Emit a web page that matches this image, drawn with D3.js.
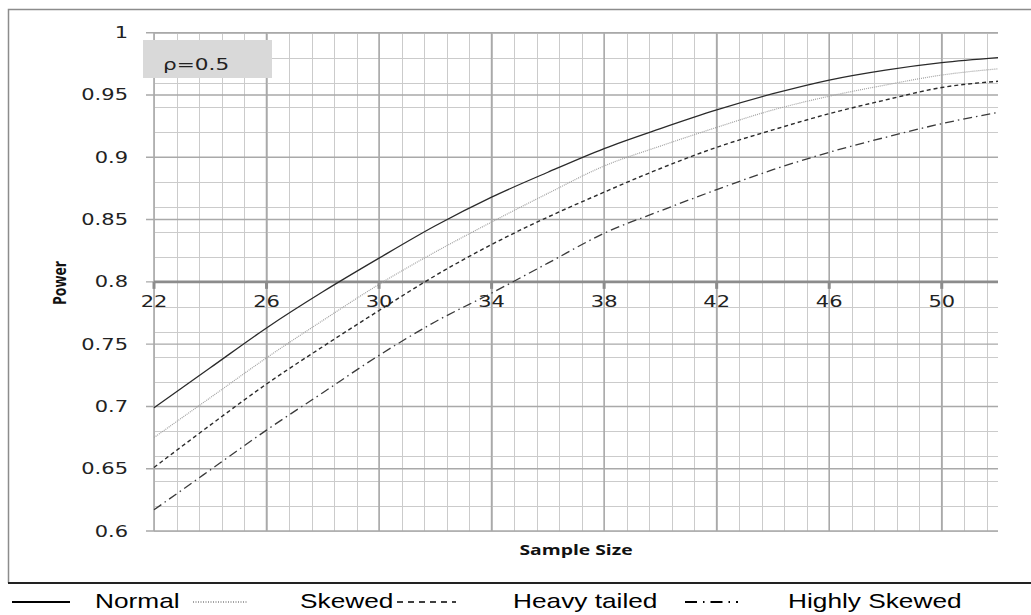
<!DOCTYPE html>
<html><head><meta charset="utf-8">
<script src="https://cdn.jsdelivr.net/npm/d3@7"></script>
<style>html,body{margin:0;padding:0;background:#fff;}svg{display:block;}</style>
</head><body>
<svg id="chart" width="1031" height="615"></svg>
<script>
// ---- data ----
const sampleSizes = [22,24,26,28,30,32,34,36,38,40,42,44,46,48,50,52];
const normalPower   = [0.699,0.731,0.763,0.792,0.819,0.845,0.868,0.888,0.907,0.923,0.938,0.951,0.962,0.970,0.976,0.980];
const skewedPower   = [0.675,0.707,0.739,0.769,0.798,0.824,0.848,0.871,0.893,0.909,0.924,0.938,0.949,0.958,0.966,0.971];
const heavyPower    = [0.651,0.685,0.718,0.748,0.777,0.805,0.830,0.852,0.872,0.891,0.908,0.922,0.935,0.946,0.956,0.961];
const highSkewPower = [0.617,0.649,0.681,0.711,0.741,0.768,0.791,0.815,0.839,0.857,0.874,0.890,0.904,0.916,0.927,0.936];
const xTickLabels = [22,26,30,34,38,42,46,50];
const yTickLabels = [0.6,0.65,0.7,0.75,0.8,0.85,0.9,0.95,1];
const seriesNames = ["Normal","Skewed","Heavy tailed","Highly Skewed"];
const annotation = "ρ=0.5";
const xTitle = "Sample Size", yTitle = "Power";

// ---- layout ----
const svg = d3.select("#chart");
const x = d3.scaleLinear().domain([22,52]).range([154,998]);
const y = d3.scaleLinear().domain([0.6,1]).range([531,32.7]);

// outer frame
svg.append("path").attr("d","M8.5,583 L8.5,9.5 L1031,9.5").attr("fill","none").attr("stroke","#8c8c8c").attr("stroke-width",1.5);
svg.append("line").attr("x1",8).attr("x2",1031).attr("y1",583).attr("y2",583).attr("stroke","#222").attr("stroke-width",2);

const g = svg.append("g");
// minor grid
const xMinor = d3.range(22, 52.0001, 0.8).filter(v => v <= 52);
const yMinor = d3.range(0.6, 1.0001, 0.02);
g.selectAll(".vmin").data(xMinor).join("line")
  .attr("x1",d=>Math.round(x(d))+0.5).attr("x2",d=>Math.round(x(d))+0.5)
  .attr("y1",y(1)).attr("y2",y(0.6)).attr("stroke","#cbcbcb").attr("stroke-width",1);
g.selectAll(".hmin").data(yMinor).join("line")
  .attr("x1",x(22)).attr("x2",x(52))
  .attr("y1",d=>Math.round(y(d))+0.5).attr("y2",d=>Math.round(y(d))+0.5)
  .attr("stroke","#cbcbcb").attr("stroke-width",1);
// major grid
g.selectAll(".vmaj").data(xTickLabels).join("line")
  .attr("x1",d=>x(d)).attr("x2",d=>x(d))
  .attr("y1",y(1)).attr("y2",y(0.6)).attr("stroke","#a9a9a9").attr("stroke-width",1.6);
g.selectAll(".hmaj").data(yTickLabels).join("line")
  .attr("x1",x(22)-8).attr("x2",x(52))
  .attr("y1",d=>y(d)).attr("y2",d=>y(d)).attr("stroke","#a9a9a9").attr("stroke-width",1.4);

// y axis labels
const tickFont = "'DejaVu Sans', sans-serif";
g.selectAll(".ylab").data(yTickLabels).join("text")
  .attr("transform",d=>`translate(128,${y(d)+5.5}) scale(1.4,1)`)
  .attr("text-anchor","end").attr("font-family",tickFont).attr("font-size",15).attr("fill","#222")
  .text(d=>d3.format("")(+d.toFixed(2)));

// x axis crossing at 0.8
g.append("line").attr("x1",x(22)).attr("x2",x(52)).attr("y1",y(0.8)).attr("y2",y(0.8))
  .attr("stroke","#8c8c8c").attr("stroke-width",2.8);
g.selectAll(".xtick").data(xTickLabels).join("line")
  .attr("x1",d=>x(d)).attr("x2",d=>x(d)).attr("y1",y(0.8)).attr("y2",y(0.8)+7)
  .attr("stroke","#8c8c8c").attr("stroke-width",3);
g.selectAll(".xlab").data(xTickLabels).join("text")
  .attr("transform",d=>`translate(${x(d)},${y(0.8)+25}) scale(1.4,1)`)
  .attr("text-anchor","middle").attr("font-family",tickFont).attr("font-size",15).attr("fill","#222")
  .text(d=>d);

// curves
const series = [
  {name:seriesNames[0], vals:normalPower,   color:"#2a2a2a", dash:null,        w:1.3},
  {name:seriesNames[1], vals:skewedPower,   color:"#a0a0a0", dash:"1,1",       w:1.2},
  {name:seriesNames[2], vals:heavyPower,    color:"#2a2a2a", dash:"4,3",       w:1.4},
  {name:seriesNames[3], vals:highSkewPower, color:"#3a3a3a", dash:"9,4,1.5,4", w:1.3}
];
const line = d3.line().x(d=>x(d[0])).y(d=>y(d[1])).curve(d3.curveMonotoneX);
series.forEach(s=>{
  g.append("path").datum(sampleSizes.map((n,i)=>[n,s.vals[i]]))
    .attr("d",line).attr("fill","none").attr("stroke",s.color).attr("stroke-width",s.w)
    .attr("stroke-dasharray",s.dash);
});

// annotation box
g.append("rect").attr("x",143).attr("y",40).attr("width",129).attr("height",38).attr("fill","#d9d9d9");
g.append("text").attr("transform","translate(163,70) scale(1.35,1)")
  .attr("font-family",tickFont).attr("font-size",16).attr("fill","#222").text(annotation);

// axis titles
g.append("text").attr("transform",`translate(${x(37)},${555}) scale(1.38,1)`)
  .attr("text-anchor","middle").attr("font-family","'Open Sans', sans-serif").attr("font-weight","bold")
  .attr("font-size",14).attr("fill","#111").text(xTitle);
g.append("text").attr("transform","translate(66,283) rotate(-90) scale(1,1.3)")
  .attr("text-anchor","middle").attr("font-family","'Open Sans', sans-serif").attr("font-weight","bold")
  .attr("font-size",14).attr("fill","#111").text(yTitle);

// legend
const lg = svg.append("g");
const legFont = "'Liberation Sans', Arial, sans-serif";
const legendSamples = [
  {x1:12,  x2:70,  dash:null,       w:2,   c:"#000"},
  {x1:193, x2:247, dash:"1,1.5",    w:1,   c:"#444"},
  {x1:397, x2:456, dash:"6,5",      w:1.6, c:"#000"},
  {x1:685, x2:738, dash:"12,6,1.5,6", w:2, c:"#000"}
];
legendSamples.forEach(s=>{
  lg.append("line").attr("x1",s.x1).attr("x2",s.x2).attr("y1",602).attr("y2",602)
    .attr("stroke",s.c).attr("stroke-width",s.w).attr("stroke-dasharray",s.dash);
});
const legendTextX = [95, 300, 513, 788];
seriesNames.forEach((n,i)=>{
  lg.append("text").attr("transform",`translate(${legendTextX[i]},608) scale(1.25,1)`)
    .attr("font-family",legFont).attr("font-size",21).attr("fill","#000").text(n);
});
</script>
</body></html>
